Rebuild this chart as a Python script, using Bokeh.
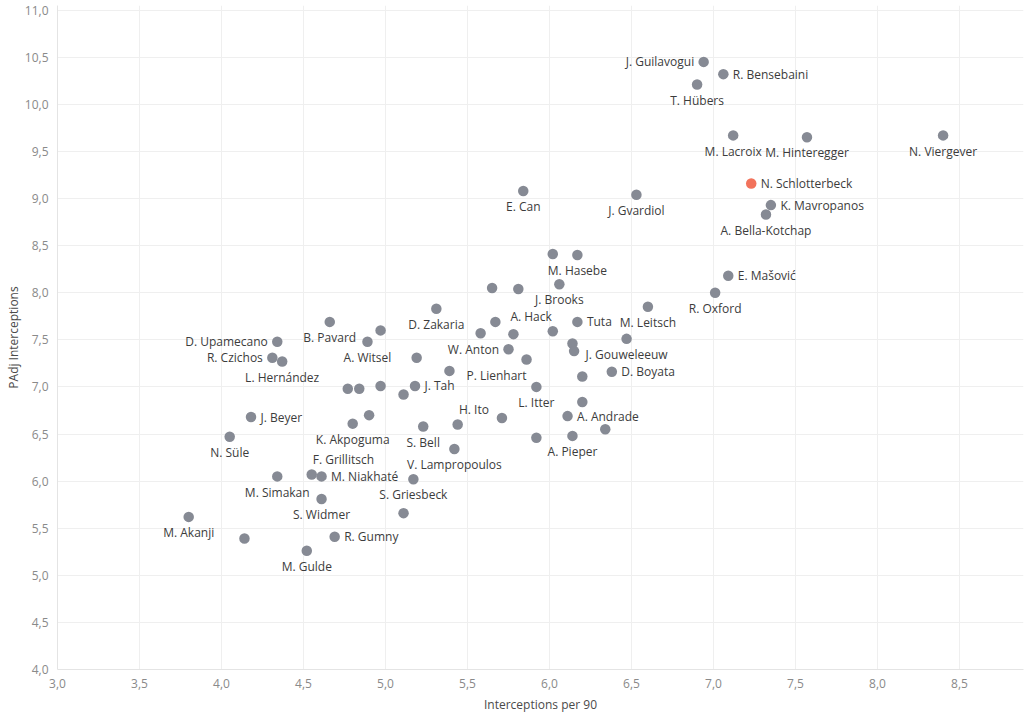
import math
from bokeh.plotting import figure
from bokeh.models import Range1d, FixedTicker, CustomJSTickFormatter, ColumnDataSource, Title
from bokeh.core.properties import value
from bokeh.embed import file_html
from bokeh.resources import INLINE

# ---------------- data ----------------
players = [
    "J. Guilavogui", "R. Bensebaini", "T. Hübers", "M. Lacroix", "M. Hinteregger",
    "N. Viergever", "N. Schlotterbeck", "J. Gvardiol", "K. Mavropanos", "A. Bella-Kotchap",
    "E. Can", "", "M. Hasebe", "E. Mašović", "",
    "", "J. Brooks", "R. Oxford", "M. Leitsch", "D. Zakaria",
    "A. Hack", "Tuta", "", "", "",
    "J. Gouweleeuw", "", "", "W. Anton", "",
    "P. Lienhart", "", "D. Boyata", "", "J. Tah",
    "L. Itter", "", "", "H. Ito", "A. Andrade",
    "S. Bell", "", "", "", "A. Pieper",
    "V. Lampropoulos", "D. Upamecano", "R. Czichos", "L. Hernández", "B. Pavard",
    "", "A. Witsel", "", "", "",
    "J. Beyer", "", "K. Akpoguma", "N. Süle", "M. Simakan",
    "F. Grillitsch", "M. Niakhaté", "S. Griesbeck", "S. Widmer", "",
    "M. Akanji", "", "R. Gumny", "M. Gulde",
]
interceptions_per_90 = [
    6.94, 7.06, 6.90, 7.12, 7.57,
    8.40, 7.23, 6.53, 7.35, 7.32,
    5.84, 6.02, 6.17, 7.09, 5.65,
    5.81, 6.06, 7.01, 6.60, 5.31,
    5.67, 6.17, 5.58, 5.78, 6.02,
    6.47, 6.14, 6.15, 5.75, 5.19,
    5.86, 5.39, 6.38, 6.20, 5.18,
    5.92, 5.11, 6.20, 5.71, 6.11,
    5.23, 5.44, 6.34, 5.92, 6.14,
    5.42, 4.34, 4.31, 4.37, 4.66,
    4.97, 4.89, 4.77, 4.84, 4.97,
    4.18, 4.90, 4.80, 4.05, 4.34,
    4.55, 4.61, 5.17, 4.61, 5.11,
    3.80, 4.14, 4.69, 4.52,
]
padj_interceptions = [
    10.45, 10.32, 10.21, 9.67, 9.65,
    9.67, 9.16, 9.04, 8.93, 8.83,
    9.08, 8.41, 8.40, 8.18, 8.05,
    8.04, 8.09, 8.00, 7.85, 7.83,
    7.69, 7.69, 7.57, 7.56, 7.59,
    7.51, 7.46, 7.38, 7.40, 7.31,
    7.29, 7.17, 7.16, 7.11, 7.01,
    7.00, 6.92, 6.84, 6.67, 6.69,
    6.58, 6.60, 6.55, 6.46, 6.48,
    6.34, 7.48, 7.31, 7.27, 7.69,
    7.60, 7.48, 6.98, 6.98, 7.01,
    6.68, 6.70, 6.61, 6.47, 6.05,
    6.07, 6.05, 6.02, 5.81, 5.66,
    5.62, 5.39, 5.41, 5.26,
]
highlighted = "N. Schlotterbeck"

x_ticks = [3.0, 3.5, 4.0, 4.5, 5.0, 5.5, 6.0, 6.5, 7.0, 7.5, 8.0, 8.5]
y_ticks = [4.0, 4.5, 5.0, 5.5, 6.0, 6.5, 7.0, 7.5, 8.0, 8.5, 9.0, 9.5, 10.0, 10.5, 11.0]
x_title = "Interceptions per 90"
y_title = "PAdj Interceptions"

# ---------------- label placement (style) ----------------
R, L, B = "r", "l", "b"
label_place = {
    "J. Guilavogui": L, "R. Bensebaini": R, "T. Hübers": B, "M. Lacroix": B,
    "M. Hinteregger": B, "N. Viergever": B, "N. Schlotterbeck": R, "J. Gvardiol": B,
    "K. Mavropanos": R, "A. Bella-Kotchap": B, "E. Can": B, "M. Hasebe": B,
    "E. Mašović": R, "J. Brooks": B, "R. Oxford": B, "M. Leitsch": B,
    "D. Zakaria": B, "A. Hack": (15, -5, "left"), "Tuta": R, "J. Gouweleeuw": B,
    "W. Anton": L, "P. Lienhart": (0, 16, "right"), "D. Boyata": R, "J. Tah": R,
    "L. Itter": B, "H. Ito": (-13, -8, "right"), "A. Andrade": R, "S. Bell": B,
    "A. Pieper": B, "V. Lampropoulos": B, "D. Upamecano": L, "R. Czichos": L,
    "L. Hernández": B, "B. Pavard": B, "A. Witsel": B, "J. Beyer": R,
    "K. Akpoguma": B, "N. Süle": B, "M. Simakan": B, "F. Grillitsch": (1, -15, "left"),
    "M. Niakhaté": R, "S. Griesbeck": B, "S. Widmer": B, "M. Akanji": B,
    "R. Gumny": R, "M. Gulde": B,
}
preset = {R: (9.5, 0, "left"), L: (-9.5, 0, "right"), B: (0, 15.7, "center")}

GREY = "#868a94"
RED = "#f2735c"
FONT = "Open Sans"

# ---------------- figure ----------------
W, H = 1024, 716
FRAME_L, FRAME_T, FRAME_BOTTOM_PX = 57, 5, 669
PX_X, PX_Y = 164.0, 94.2
x_end = 3.0 + (W - 1 - FRAME_L) / PX_X
y_end = 4.0 + (FRAME_BOTTOM_PX - FRAME_T) / PX_Y

p = figure(width=W, height=H, output_backend="svg", toolbar_location=None,
           x_range=Range1d(3.0, x_end), y_range=Range1d(4.0, y_end),
           min_border_left=FRAME_L, min_border_right=1, min_border_top=FRAME_T,
           min_border_bottom=H - FRAME_BOTTOM_PX)
p.outline_line_color = None
p.background_fill_color = "white"

fmt = CustomJSTickFormatter(code="return tick.toFixed(1).replace('.', ',');")
for ax, ticks in ((p.xaxis, x_ticks), (p.yaxis, y_ticks)):
    ax.ticker = FixedTicker(ticks=ticks)
    ax.formatter = fmt
    ax.axis_line_color = "#e4e4e4"
    ax.major_tick_line_color = None
    ax.minor_tick_line_color = None
    ax.major_tick_out = 0
    ax.major_tick_in = 0
    ax.major_label_text_font = FONT
    ax.major_label_text_font_size = "12px"
    ax.major_label_text_color = "#8a8a8a"
    ax.major_label_standoff = 9

p.xaxis.axis_label = x_title
p.xaxis.axis_label_text_font = FONT
p.xaxis.axis_label_text_font_size = "12px"
p.xaxis.axis_label_text_font_style = "normal"
p.xaxis.axis_label_text_color = "#4a4a4a"
p.xaxis.axis_label_standoff = 5

p.add_layout(Title(text=y_title, align="center", offset=17, standoff=0,
                   text_font=FONT, text_font_size="12px", text_font_style="normal",
                   text_color="#4a4a4a"), "left")

p.xgrid.ticker = FixedTicker(ticks=x_ticks)
p.ygrid.ticker = FixedTicker(ticks=y_ticks)
for g in (p.xgrid, p.ygrid):
    g.grid_line_color = "#efefef"
    g.grid_line_width = 1

# ---------------- points ----------------
order_grey = [i for i, n in enumerate(players) if n != highlighted]
order_red = [i for i, n in enumerate(players) if n == highlighted]
for idx, col in ((order_grey, GREY), (order_red, RED)):
    s = ColumnDataSource(dict(x=[interceptions_per_90[i] for i in idx],
                              y=[padj_interceptions[i] for i in idx]))
    p.scatter("x", "y", source=s, size=10.5, fill_color=col, line_color=None)

# ---------------- point labels ----------------
groups = {"left": dict(x=[], y=[], t=[], dx=[], dy=[]),
          "center": dict(x=[], y=[], t=[], dx=[], dy=[]),
          "right": dict(x=[], y=[], t=[], dx=[], dy=[])}
for n, xv, yv in zip(players, interceptions_per_90, padj_interceptions):
    if not n:
        continue
    pl = label_place[n]
    dx, dy, al = preset[pl] if isinstance(pl, str) else pl
    g = groups[al]
    g["x"].append(xv); g["y"].append(yv); g["t"].append(n)
    g["dx"].append(dx); g["dy"].append(dy)
for al, g in groups.items():
    p.text("x", "y", text="t", x_offset="dx", y_offset="dy",
           source=ColumnDataSource(g), text_align=al, text_baseline="middle",
           text_font=value(FONT), text_font_size="12px", text_color="#3c3c3c")

open("out.html", "w").write(file_html(p, INLINE))
